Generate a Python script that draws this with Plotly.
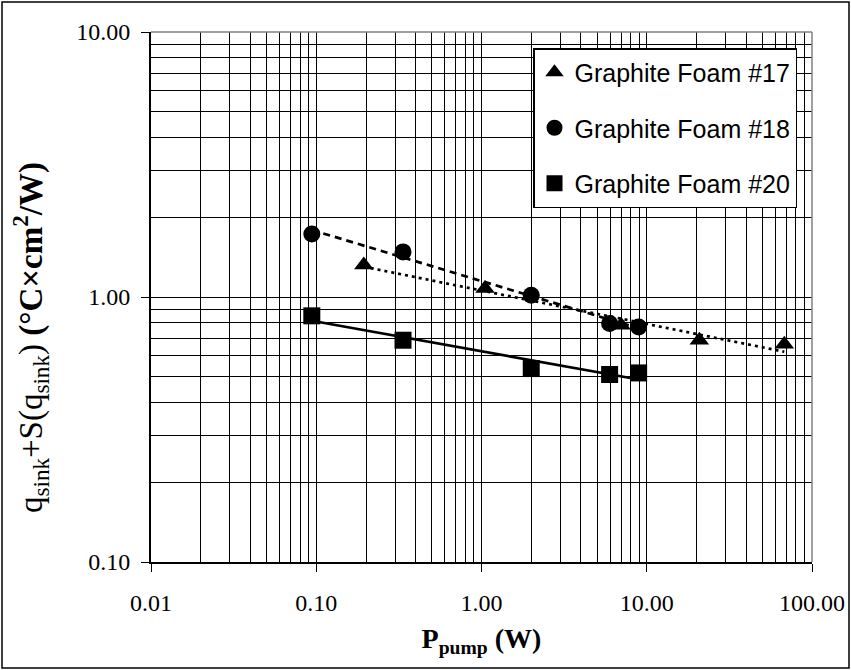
import numpy as np
import plotly.graph_objects as go

# ---- data ----
series_names = ["Graphite Foam #17", "Graphite Foam #18", "Graphite Foam #20"]
foam17_p = [0.194, 1.05, 7.0, 20.8, 68.0]
foam17_r = [1.32, 1.077, 0.783, 0.687, 0.664]
foam18_p = [0.094, 0.335, 2.0, 5.96, 8.93]
foam18_r = [1.73, 1.48, 1.016, 0.794, 0.771]
foam20_p = [0.094, 0.335, 2.0, 5.96, 8.93]
foam20_r = [0.849, 0.687, 0.537, 0.510, 0.517]

x_tickvals = [0.01, 0.1, 1, 10, 100]
x_ticktext = ["0.01", "0.10", "1.00", "10.00", "100.00"]
y_tickvals = [0.1, 1, 10]
y_ticktext = ["0.10", "1.00", "10.00"]

symbols = ["triangle-up", "circle", "square"]
dashes = ["3px,4px", "7px,5px", "solid"]
xs = [foam17_p, foam18_p, foam20_p]
ys = [foam17_r, foam18_r, foam20_r]

fig = go.Figure()

# power-law trendlines
for i in range(3):
    lx = np.log10(xs[i]); ly = np.log10(ys[i])
    b, a = np.polyfit(lx, ly, 1)
    xx = np.logspace(lx.min(), lx.max(), 50)
    fig.add_trace(go.Scatter(x=xx, y=10 ** (a + b * np.log10(xx)), mode="lines",
                             line=dict(color="black", width=2.7, dash=dashes[i]),
                             showlegend=False, hoverinfo="skip"))

for i in range(3):
    fig.add_trace(go.Scatter(x=xs[i], y=ys[i], mode="markers", name=series_names[i],
                             legendgroup="g%d" % i,
                             marker=dict(symbol=symbols[i], size=17, color="black",
                                         line=dict(width=0))))

minor_x = [m * 10.0 ** e for e in range(-2, 2) for m in range(2, 10)]
minor_y = [m * 10.0 ** e for e in range(-1, 1) for m in range(2, 10)]

tickfont = dict(family="Liberation Serif", size=24, color="black")

fig.update_xaxes(type="log", range=[-2, 2], tickmode="array", tickvals=x_tickvals,
                 ticktext=x_ticktext, tickfont=tickfont, ticks="outside", ticklen=8,
                 tickcolor="black", showgrid=True, gridcolor="black", gridwidth=1,
                 showline=True, linecolor="black", linewidth=2, mirror=False,
                 zeroline=False, ticklabelstandoff=10,
                 minor=dict(tickmode="array", tickvals=minor_x, showgrid=True,
                            gridcolor="black", gridwidth=1, ticks=""),
                 title=dict(text="<b>P<sub>pump</sub> (W)</b>",
                            font=dict(family="Liberation Serif", size=28, color="black"),
                            standoff=14))
fig.update_yaxes(type="log", range=[-1, 1], tickmode="array", tickvals=y_tickvals,
                 ticktext=y_ticktext, tickfont=tickfont, ticks="outside", ticklen=8,
                 tickcolor="black", showgrid=True, gridcolor="black", gridwidth=1,
                 showline=True, linecolor="black", linewidth=2, mirror=False,
                 zeroline=False, ticklabelstandoff=6,
                 minor=dict(tickmode="array", tickvals=minor_y, showgrid=True,
                            gridcolor="black", gridwidth=1, ticks=""))

W, H = 851, 670
L, R, T, B = 151, 39, 32, 108
pw, ph = W - L - R, H - T - B

def px_to_paper_x(p):
    return (p - L) / pw

def px_to_paper_y(p):
    return (H - B - p) / ph

shapes = [
    dict(type="line", xref="paper", yref="paper", x0=0, x1=1, y0=1, y1=1,
         line=dict(color="#808080", width=1.5)),
    dict(type="line", xref="paper", yref="paper", x0=1, x1=1, y0=0, y1=1,
         line=dict(color="#808080", width=1.5)),
    dict(type="rect", xref="paper", yref="paper",
         x0=px_to_paper_x(2), x1=px_to_paper_x(849),
         y0=px_to_paper_y(668), y1=px_to_paper_y(2),
         line=dict(color="black", width=1.5), layer="above"),
]

annotations = [
    dict(text="q<sub>sink</sub>+S(q<sub>sink</sub>) <b>(°C×cm<sup>2</sup>/W)</b>",
         xref="paper", yref="paper", x=px_to_paper_x(30), y=px_to_paper_y(338),
         xanchor="center", yanchor="middle", textangle=-90, showarrow=False,
         font=dict(family="Liberation Serif", size=33, color="black")),
]

fig.update_layout(
    width=W, height=H, margin=dict(l=L, r=R, t=T, b=B, autoexpand=False),
    paper_bgcolor="white", plot_bgcolor="white",
    shapes=shapes, annotations=annotations,
    showlegend=True,
    legend=dict(x=px_to_paper_x(533), y=px_to_paper_y(48), xanchor="left", yanchor="top",
                bgcolor="white", bordercolor="black", borderwidth=1.5,
                font=dict(family="Liberation Sans", size=25, color="black"),
                tracegroupgap=20, traceorder="grouped", itemwidth=30),
)

fig.write_html("out.html", config={"displayModeBar": False},
               post_script="document.body.style.margin='0px';document.body.style.padding='0px';")
